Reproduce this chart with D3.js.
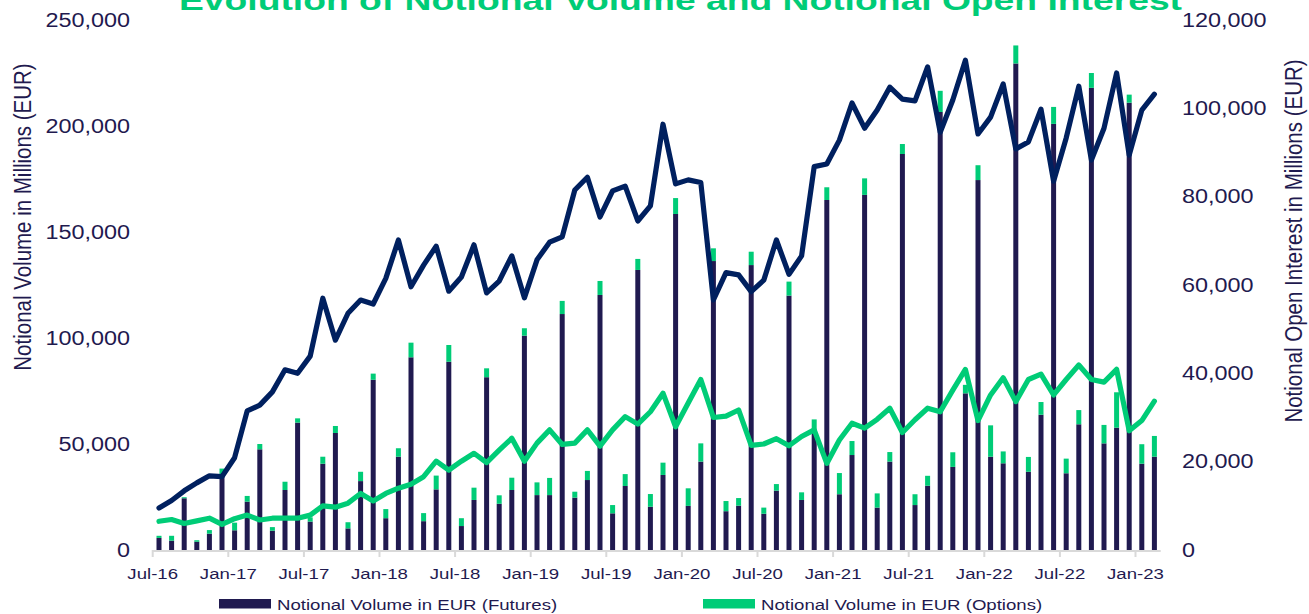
<!DOCTYPE html>
<html>
<head>
<meta charset="utf-8">
<script src="https://cdn.jsdelivr.net/npm/d3@7"></script>
<style>
  html, body { margin: 0; padding: 0; background: #fff; }
  svg { display: block; font-family: "Liberation Sans", Arial, sans-serif; }
</style>
</head>
<body>
<svg id="chart" width="1309" height="614"></svg>
<script>
// months shown on the category axis
const months = [
  'Jul-16','Aug-16','Sep-16','Oct-16','Nov-16','Dec-16',
  'Jan-17','Feb-17','Mar-17','Apr-17','May-17','Jun-17','Jul-17','Aug-17','Sep-17','Oct-17','Nov-17','Dec-17',
  'Jan-18','Feb-18','Mar-18','Apr-18','May-18','Jun-18','Jul-18','Aug-18','Sep-18','Oct-18','Nov-18','Dec-18',
  'Jan-19','Feb-19','Mar-19','Apr-19','May-19','Jun-19','Jul-19','Aug-19','Sep-19','Oct-19','Nov-19','Dec-19',
  'Jan-20','Feb-20','Mar-20','Apr-20','May-20','Jun-20','Jul-20','Aug-20','Sep-20','Oct-20','Nov-20','Dec-20',
  'Jan-21','Feb-21','Mar-21','Apr-21','May-21','Jun-21','Jul-21','Aug-21','Sep-21','Oct-21','Nov-21','Dec-21',
  'Jan-22','Feb-22','Mar-22','Apr-22','May-22','Jun-22','Jul-22','Aug-22','Sep-22','Oct-22','Nov-22','Dec-22',
  'Jan-23','Feb-23'
];
const tickLabels = ['Jul-16','Jan-17','Jul-17','Jan-18','Jul-18','Jan-19','Jul-19','Jan-20','Jul-20','Jan-21','Jul-21','Jan-22','Jul-22','Jan-23'];

// notional volume, EUR millions
const volFutures = [
  5700, 4400, 24400, 3900, 7700, 35800,
  9300, 22800, 47500, 9100, 28300, 60100, 13400, 40700, 55200, 10200, 32500, 80300,
  15000, 44000, 90900, 13600, 28600, 88800, 11300, 23600, 81500, 21800, 28300, 101100,
  25900, 25900, 111300, 24700, 33000, 120300, 17300, 30200, 132100, 20400, 35400, 158500,
  20800, 41700, 136300, 18300, 20900, 134400, 17100, 28000, 120000, 23600, 56600, 165100,
  26300, 44800, 167500, 20000, 41700, 186800, 21200, 30300, 206600, 39200, 73900, 174500,
  44000, 40900, 229500, 36900, 63800, 201000, 36200, 59300, 218000, 50300, 57700, 211000,
  40700, 44000
];
const volOptions = [
  1000, 2300, 500, 700, 1700, 2600,
  3600, 2700, 2500, 1700, 3900, 2000, 2000, 3300, 3300, 2900, 4400, 2900,
  4300, 4000, 6900, 3800, 6500, 7900, 3700, 5800, 4200, 4000, 5800, 3500,
  6000, 8100, 6200, 2800, 4300, 6600, 3900, 5600, 5200, 6000, 5800, 7500,
  8300, 8600, 6000, 4800, 3600, 6300, 2900, 3100, 6600, 3600, 5000, 6000,
  10000, 6600, 7800, 6700, 4500, 4700, 5100, 4700, 10000, 6900, 4000, 7000,
  14800, 5600, 8500, 7000, 6000, 8000, 6900, 6700, 7000, 8700, 16700, 3800,
  9200, 9800
];

// notional open interest, EUR millions (right axis)
const oiFutures = [
  9500, 11200, 13400, 15200, 16800, 16600,
  20900, 31500, 32800, 35800, 40800, 40000, 43900, 57000, 47500, 53600, 56600, 55700,
  61500, 70200, 59600, 64500, 68800, 58600, 61800, 69100, 58200, 60900, 66600, 57100,
  65700, 69700, 70900, 81500, 84400, 75400, 81300, 82400, 74500, 77900, 96400, 82900,
  83800, 83200, 56600, 62800, 62300, 58500, 61100, 70200, 62400, 66600, 86800, 87400,
  92800, 101200, 95500, 99600, 104800, 102100, 101700, 109400, 94600, 101900, 110900, 94200,
  98000, 105500, 90800, 92400, 99800, 83500, 93300, 105000, 88300, 95500, 108000, 89400,
  99600, 103200
];
const oiOptions = [
  6500, 6900, 6000, 6600, 7200, 5800,
  7100, 7900, 6800, 7200, 7200, 7200, 7900, 10000, 9700, 10600, 12800, 11100,
  12800, 14000, 14900, 16600, 20100, 18100, 20100, 21900, 19800, 22600, 25300, 20100,
  24200, 27200, 23900, 24200, 27200, 23500, 27200, 30200, 28500, 31300, 35500, 27900,
  33300, 38600, 30000, 30300, 31700, 23700, 24000, 25200, 23600, 25700, 27200, 19600,
  24900, 28700, 27600, 29600, 32100, 26600, 29500, 32100, 31300, 36200, 40900, 29300,
  35100, 39000, 33600, 38600, 39800, 35100, 38600, 41900, 38600, 38000, 40900, 27000,
  29300, 33700
];

const navyBar = '#201a50';
const navyLine = '#00205f';
const green = '#00cc77';
const textCol = '#1f1a4f';

const svg = d3.select('#chart');

const x = d3.scaleBand().domain(months).range([152.7, 1160.7]).padding(0);
const yL = d3.scaleLinear().domain([0, 250000]).range([550, 20]);
const yR = d3.scaleLinear().domain([0, 120000]).range([550, 20]);

// the source picture is a bit wider than tall, so glyphs get widened
const widen = (sel, k) => sel.each(function () {
  const w = this.getComputedTextLength();
  d3.select(this).attr('textLength', w * k).attr('lengthAdjust', 'spacingAndGlyphs');
});

// bars
const barW = 5;
const rows = months.map((m, i) => ({ m, fut: volFutures[i], opt: volOptions[i] }));
const bars = svg.append('g');
bars.selectAll('rect.fut').data(rows).join('rect')
  .attr('class', 'fut')
  .attr('x', d => x(d.m) + x.bandwidth() / 2 - barW / 2)
  .attr('width', barW)
  .attr('y', d => yL(d.fut))
  .attr('height', d => yL(0) - yL(d.fut))
  .attr('fill', navyBar);
bars.selectAll('rect.opt').data(rows).join('rect')
  .attr('class', 'opt')
  .attr('x', d => x(d.m) + x.bandwidth() / 2 - barW / 2)
  .attr('width', barW)
  .attr('y', d => yL(d.fut + d.opt))
  .attr('height', d => yL(d.fut) - yL(d.fut + d.opt))
  .attr('fill', green);

// x axis, ticks sit between categories
svg.append('line')
  .attr('x1', x.range()[0]).attr('x2', x.range()[1])
  .attr('y1', 551).attr('y2', 551)
  .attr('stroke', '#d9d9d9').attr('stroke-width', 2);
const xAxis = svg.append('g')
  .attr('transform', `translate(${-x.bandwidth() / 2},550)`)
  .call(d3.axisBottom(x).tickValues(tickLabels).tickSize(7).tickPadding(11));
xAxis.select('.domain').remove();
xAxis.selectAll('.tick line').attr('stroke', '#d9d9d9').attr('stroke-width', 2);
xAxis.selectAll('.tick text')
  .attr('fill', textCol).style('font-size', '15.5px').style('font-family', '"Liberation Sans", Arial, sans-serif')
  .call(widen, 1.2);

// left axis
const leftAxis = svg.append('g')
  .attr('transform', 'translate(138,0)')
  .call(d3.axisLeft(yL).tickValues(d3.range(0, 250001, 50000)).tickFormat(d3.format(',')).tickSize(0).tickPadding(8));
leftAxis.select('.domain').remove();
leftAxis.selectAll('.tick text')
  .attr('fill', textCol).style('font-size', '19.5px').style('font-family', '"Liberation Sans", Arial, sans-serif')
  .call(widen, 1.2);

// right axis
const rightAxis = svg.append('g')
  .attr('transform', 'translate(1174,0)')
  .call(d3.axisRight(yR).tickValues(d3.range(0, 120001, 20000)).tickFormat(d3.format(',')).tickSize(0).tickPadding(8));
rightAxis.select('.domain').remove();
rightAxis.selectAll('.tick text')
  .attr('fill', textCol).style('font-size', '19.5px').style('font-family', '"Liberation Sans", Arial, sans-serif')
  .call(widen, 1.2);

// lines
const line = (vals) => d3.line()
  .x((d, i) => x(months[i]) + x.bandwidth() / 2)
  .y(d => yR(d))(vals);
svg.append('path')
  .attr('d', line(oiFutures))
  .attr('fill', 'none').attr('stroke', navyLine).attr('stroke-width', 5.2)
  .attr('stroke-linejoin', 'round').attr('stroke-linecap', 'round');
svg.append('path')
  .attr('d', line(oiOptions))
  .attr('fill', 'none').attr('stroke', green).attr('stroke-width', 5.2)
  .attr('stroke-linejoin', 'round').attr('stroke-linecap', 'round');

// axis titles
svg.append('text')
  .attr('transform', 'translate(31,217) scale(1.2,1) rotate(-90)')
  .attr('text-anchor', 'middle')
  .attr('fill', textCol).style('font-size', '20.5px')
  .text('Notional Volume in Millions (EUR)');
svg.append('text')
  .attr('transform', 'translate(1302,241) scale(1.2,1) rotate(-90)')
  .attr('text-anchor', 'middle')
  .attr('fill', textCol).style('font-size', '20.5px')
  .text('Notional Open Interest in Millions (EUR)');

// title, cut off at the top like the source
svg.append('text')
  .attr('x', 179).attr('y', 10)
  .attr('fill', green).style('font-size', '28px').style('font-weight', 'bold')
  .attr('textLength', 1003).attr('lengthAdjust', 'spacingAndGlyphs')
  .text('Evolution of Notional Volume and Notional Open Interest');

// legend
const legendItems = [
  { label: 'Notional Volume in EUR (Futures)', color: navyBar, x: 219 },
  { label: 'Notional Volume in EUR (Options)', color: green, x: 703 }
];
const lg = svg.append('g').selectAll('g').data(legendItems).join('g')
  .attr('transform', d => `translate(${d.x},604)`);
lg.append('rect').attr('x', 0).attr('y', -5).attr('width', 52).attr('height', 9.5).attr('fill', d => d.color);
lg.append('text').attr('x', 58).attr('y', 5.5)
  .attr('fill', textCol).style('font-size', '15.5px')
  .text(d => d.label)
  .call(widen, 1.2);
</script>
</body>
</html>
